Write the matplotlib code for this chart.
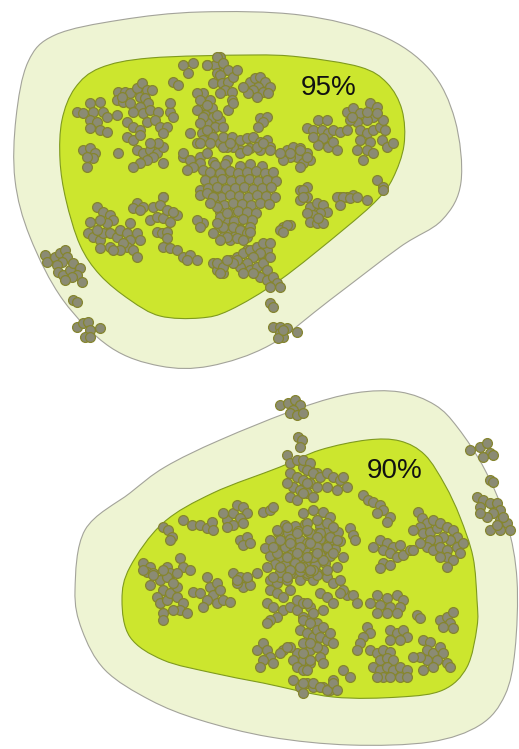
import numpy as np
import matplotlib
matplotlib.use("Agg")
import matplotlib.pyplot as plt
from matplotlib.path import Path
from matplotlib.patches import PathPatch

W, H = 519, 749

# ---- region outlines (control points, pixel space) ----
top_outer = [(28, 62), (55, 35), (120, 20), (200, 12), (300, 15), (380, 35), (430, 70),
             (455, 120), (461, 182), (442, 220), (400, 247), (330, 300), (270, 345),
             (210, 366), (160, 366), (110, 347), (63, 300), (30, 237), (15, 180), (16, 118)]
top_inner = [(62, 120), (75, 88), (100, 68), (150, 58), (250, 55), (300, 57), (360, 67),
             (387, 83), (402, 110), (404, 145), (393, 178), (377, 200), (343, 230),
             (280, 280), (230, 310), (200, 318), (160, 316), (130, 300), (100, 275),
             (80, 245), (66, 200), (60, 160)]
bot_outer = [(75, 590), (85, 530), (130, 493), (165, 467), (220, 440), (300, 408),
             (355, 393), (400, 392), (435, 405), (458, 428), (485, 470), (507, 523),
             (517, 580), (515, 650), (505, 695), (480, 725), (430, 742), (350, 745),
             (270, 737), (200, 720), (150, 700), (105, 670), (82, 630)]
bot_inner = [(122, 600), (130, 567), (163, 523), (213, 493), (280, 467), (320, 450),
             (367, 440), (400, 441), (425, 455), (445, 485), (460, 517), (473, 557),
             (477, 600), (477, 627), (467, 667), (443, 690), (400, 697), (333, 697),
             (263, 683), (213, 673), (163, 660), (130, 637)]

# ---- sample points, 95% panel ----
top_points = [
    (183, 65), (193, 63), (188, 73), (207, 65), (215, 65), (220, 57), (217, 73), (225, 70),
    (173, 82), (178, 85),
    (118, 92), (125, 92), (130, 93), (137, 88), (142, 83), (147, 90), (152, 90), (117, 100),
    (123, 102), (130, 103), (140, 97), (145, 98), (148, 103), (140, 107), (133, 112),
    (143, 113), (150, 110), (158, 112), (122, 97),
    (77, 112), (83, 113), (90, 103), (100, 102), (93, 112), (103, 112), (107, 117), (90, 120),
    (97, 122), (100, 130), (107, 132), (90, 128), (117, 115),
    (127, 122), (133, 127), (140, 130), (147, 122), (155, 120), (160, 127), (167, 127),
    (163, 133), (170, 112), (173, 117), (170, 103),
    (127, 137), (133, 140), (140, 135),
    (83, 150), (90, 148), (95, 153), (93, 158), (87, 157), (87, 167), (118, 153),
    (137, 150), (143, 153), (150, 150), (157, 153), (163, 147), (153, 157), (147, 160),
    (140, 163), (133, 167), (163, 163), (158, 143), (150, 143),
    (183, 157), (190, 160), (200, 157), (207, 153), (200, 163), (213, 162),
    (217, 57), (207, 65), (223, 63), (228, 70), (220, 75), (213, 83), (222, 83), (228, 82),
    (233, 77), (225, 90), (232, 92), (220, 93), (237, 70),
    (250, 82), (255, 78), (260, 77), (265, 82), (270, 87), (258, 87), (253, 90), (263, 92),
    (257, 97), (248, 93), (268, 93), (243, 87),
    (203, 93), (210, 100), (203, 105), (212, 108), (205, 115), (213, 117), (220, 120),
    (207, 123), (215, 127), (223, 127), (202, 133), (210, 133),
    (197, 93), (200, 100), (207, 105), (197, 110), (203, 117), (217, 115), (200, 123),
    (207, 130), (213, 137), (220, 143), (203, 140), (197, 143), (190, 133),
    (232, 100), (228, 110), (233, 103),
    (260, 118), (267, 117), (263, 122), (258, 127),
    (223, 137), (232, 137), (240, 140), (247, 138), (253, 137), (260, 142), (267, 140),
    (270, 147), (260, 150), (250, 148), (240, 150), (233, 147), (227, 147),
    (287, 150), (293, 147), (300, 148), (307, 153), (310, 160), (297, 157), (290, 157),
    (303, 163), (283, 160),
    (307, 128), (313, 130), (318, 120), (327, 120), (322, 130), (328, 133), (333, 130),
    (340, 132), (323, 138), (318, 145), (328, 147), (333, 142), (337, 150), (313, 137),
    (347, 112), (353, 108), (360, 113), (370, 103), (377, 107), (373, 117), (367, 120),
    (357, 122), (350, 120), (347, 130), (360, 130), (367, 133), (373, 130), (380, 127),
    (360, 140), (370, 142), (357, 150), (367, 150), (373, 153), (363, 160), (385, 130),
    (382, 140), (387, 147), (393, 143), (383, 120), (367, 112), (352, 117), (377, 113),
    (377, 180), (383, 187),
    (300, 190), (307, 187), (340, 197), (347, 197), (353, 195),
    (200, 143), (210, 143), (223, 147), (230, 143), (240, 153), (247, 150), (257, 147),
    (263, 143), (270, 150), (280, 153), (290, 153), (300, 150), (307, 157), (300, 167),
    (183, 153), (190, 160), (193, 167), (203, 170), (187, 170),
    (213, 173), (220, 170), (227, 177), (207, 183), (200, 190), (210, 193), (220, 190),
    (163, 197), (227, 160),
    (303, 190), (307, 197), (300, 200), (283, 227), (290, 225), (280, 230), (313, 217),
    (317, 210), (247, 250), (257, 247), (267, 250), (260, 255),
    (215, 165), (225, 164), (240, 166), (250, 164), (262, 166),
    (210, 172), (220, 173), (230, 171), (238, 173), (247, 172), (256, 171), (265, 173), (273, 172),
    (205, 180), (214, 181), (222, 179), (231, 181), (240, 180), (249, 179), (258, 181),
    (267, 180), (276, 181),
    (208, 188), (217, 187), (226, 189), (235, 188), (244, 187), (253, 189), (262, 188), (271, 187),
    (212, 196), (221, 197), (230, 195), (239, 196), (248, 197), (257, 195), (266, 196), (275, 197),
    (215, 204), (224, 205), (233, 203), (242, 204), (251, 205), (260, 203), (269, 204),
    (220, 212), (229, 213), (238, 211), (247, 212), (256, 213),
    (225, 220), (234, 221), (243, 219), (252, 220),
    (230, 228), (240, 229), (250, 227), (235, 236), (247, 237),
    (203, 223), (220, 227), (227, 230), (233, 227), (240, 230), (247, 233), (223, 237),
    (230, 240), (237, 238), (243, 240), (250, 232),
    (287, 225), (283, 232),
    (310, 207), (317, 203), (323, 205), (327, 212), (320, 213), (313, 215), (307, 213),
    (310, 222), (317, 223), (323, 223), (318, 218),
    (303, 197), (337, 197), (343, 197), (350, 198), (357, 197), (367, 200), (340, 205),
    (383, 190),
    (213, 263), (220, 267), (223, 273), (217, 270), (230, 260), (237, 257), (243, 253),
    (250, 250), (257, 247), (263, 243), (270, 243), (260, 253), (253, 257), (247, 263),
    (240, 267), (237, 260), (250, 270), (257, 267), (263, 263), (267, 270), (270, 257),
    (260, 277), (267, 280), (273, 277), (277, 283), (280, 287), (270, 287), (253, 273),
    (243, 273), (233, 263),
    (270, 303), (273, 307),
    (273, 327), (280, 327), (287, 328), (280, 333), (283, 337), (278, 338), (297, 332), (283, 330),
    (137, 203), (143, 207), (133, 208), (140, 210),
    (97, 207), (103, 212), (110, 215), (113, 220), (107, 223), (100, 220), (90, 222), (88, 233),
    (93, 237), (100, 240), (103, 233), (97, 230), (110, 233), (117, 237), (110, 247),
    (100, 248), (120, 230), (127, 233), (130, 240), (127, 247), (133, 250), (137, 257),
    (123, 243), (130, 223), (137, 233), (140, 240), (120, 250), (113, 250),
    (150, 220), (157, 217), (163, 218), (170, 222), (177, 215), (157, 232), (162, 233), (167, 232),
    (163, 197), (153, 207), (160, 205), (167, 210), (173, 212),
    (167, 238), (163, 247), (170, 248), (177, 250), (183, 257), (190, 255), (197, 260), (187, 260),
    (197, 220), (200, 227),
    (200, 195), (207, 193), (213, 197), (217, 207), (220, 217), (223, 227), (227, 237),
    (220, 240), (213, 233), (217, 223), (227, 213), (210, 203),
    (217, 263), (223, 267), (220, 273), (227, 260),
    (45, 255), (47, 262), (55, 257), (60, 253), (65, 250), (67, 257), (62, 262), (57, 265),
    (58, 272), (63, 275), (70, 270), (73, 263), (80, 268), (77, 275), (82, 282), (72, 277),
    (65, 280),
    (73, 300), (77, 302),
    (77, 327), (83, 323), (88, 322), (90, 330), (85, 337), (90, 337), (100, 328),
]

# ---- sample points, 90% panel ----
bot_points = [
    (280, 405), (288, 403), (295, 400), (300, 405), (293, 410), (290, 413), (297, 415), (303, 413),
    (298, 437), (302, 440), (300, 447),
    (287, 455), (290, 463), (297, 460), (303, 467), (310, 470), (290, 473), (297, 477),
    (303, 480), (310, 483), (293, 487), (300, 490), (307, 493), (290, 497), (297, 500),
    (313, 497), (317, 473), (287, 483),
    (303, 460), (310, 463), (307, 470), (313, 473), (320, 477), (327, 473), (333, 477),
    (340, 480), (347, 487), (337, 490), (327, 487), (317, 487), (307, 483), (303, 493),
    (313, 497), (343, 477),
    (227, 520), (233, 513), (237, 505), (243, 507), (247, 513), (240, 518), (233, 525),
    (227, 527), (243, 523), (223, 513),
    (263, 512), (270, 510), (273, 507),
    (183, 520), (192, 525), (200, 525), (207, 528), (212, 522), (213, 530),
    (163, 527), (168, 530), (172, 537), (170, 540),
    (240, 540), (247, 537), (243, 545), (250, 543),
    (143, 563), (150, 567), (147, 572), (153, 573), (167, 567), (170, 573), (180, 558),
    (183, 567), (177, 573), (190, 570),
    (363, 495), (368, 500), (373, 502), (380, 505), (383, 510), (377, 513), (390, 517), (387, 522),
    (350, 528), (353, 535), (355, 540),
    (373, 547), (380, 540), (387, 543), (393, 547), (400, 545), (383, 550), (390, 553),
    (397, 557), (403, 555), (410, 550), (383, 563), (390, 565), (380, 568),
    (418, 512), (422, 518), (427, 523), (420, 527), (413, 530), (423, 533), (430, 532),
    (437, 528), (433, 520), (440, 523), (447, 527), (453, 530), (457, 537), (450, 540),
    (443, 537), (437, 540), (430, 540), (427, 547), (433, 550), (440, 547), (447, 550),
    (457, 547), (463, 543), (460, 553), (447, 557), (440, 557), (420, 543), (413, 550),
    (453, 560), (447, 567),
    (470, 450), (480, 447), (487, 443), (490, 453), (483, 457), (493, 455), (490, 480),
    (493, 482), (477, 497), (483, 500), (480, 507), (490, 503), (497, 503), (500, 510),
    (493, 513), (487, 517), (480, 513), (500, 520), (507, 523), (510, 530), (500, 530),
    (490, 530), (497, 525), (503, 517),
    (150, 585), (160, 580), (167, 577), (163, 590), (157, 597), (160, 603), (167, 600),
    (170, 593), (177, 597), (183, 603), (180, 610), (173, 610), (163, 613), (163, 620),
    (187, 613), (177, 587), (173, 583),
    (143, 570), (153, 575), (163, 570),
    (193, 592), (200, 593), (207, 577), (210, 587), (217, 583), (213, 595), (207, 600),
    (203, 607), (217, 603), (223, 600), (230, 602), (220, 590),
    (233, 573), (240, 577), (247, 580), (243, 587), (250, 585), (237, 583),
    (270, 580), (277, 583), (280, 577), (287, 580), (293, 573), (300, 580), (307, 575),
    (313, 580), (317, 573), (270, 590), (277, 593), (283, 597), (290, 590), (267, 603),
    (273, 607), (283, 610), (290, 607), (297, 610), (277, 617), (270, 620), (267, 623),
    (297, 600), (303, 603), (310, 607), (303, 617), (310, 620), (317, 623), (300, 630),
    (307, 633), (313, 637), (303, 643), (310, 650), (317, 647), (297, 653), (290, 647),
    (283, 650), (293, 660), (303, 660), (310, 663), (297, 667), (303, 670), (293, 680),
    (300, 687), (307, 683), (313, 687),
    (257, 650), (263, 643), (267, 650), (270, 657), (263, 660), (260, 667), (273, 663),
    (280, 653), (287, 647), (303, 693),
    (307, 573), (317, 575), (327, 577), (333, 583), (340, 580), (320, 593), (327, 597),
    (333, 603), (323, 610), (313, 613), (307, 603), (303, 620), (310, 623), (317, 630),
    (323, 627), (320, 637), (327, 640), (330, 633), (333, 643), (323, 650), (317, 647),
    (310, 643), (303, 653), (310, 660), (307, 670), (313, 683), (303, 683), (323, 687),
    (333, 680), (330, 690), (320, 657), (323, 663),
    (347, 595), (353, 595), (357, 603), (343, 590), (340, 593),
    (377, 595), (387, 598), (397, 595), (403, 600), (380, 605), (390, 607), (377, 613),
    (387, 613), (400, 607), (397, 613), (370, 603),
    (417, 615), (420, 618),
    (440, 620), (447, 617), (453, 612), (450, 623), (443, 627), (453, 628),
    (367, 627), (370, 633), (363, 637), (360, 643), (357, 650), (370, 650),
    (390, 630), (397, 633), (403, 630), (407, 637), (390, 640), (400, 640),
    (377, 653), (383, 650), (390, 652), (380, 660), (387, 658), (393, 660), (373, 667),
    (380, 670), (387, 667), (393, 670), (400, 667), (407, 670), (400, 677), (407, 677),
    (383, 677), (377, 677), (390, 677),
    (423, 640), (430, 642), (427, 650), (433, 653), (440, 647), (443, 653), (437, 660),
    (447, 663), (450, 667), (427, 660), (420, 657), (433, 667), (423, 670), (413, 657),
    (343, 670), (350, 677),
    (320, 687), (327, 690), (333, 683), (337, 690),
    (285, 525), (295, 526), (305, 524), (320, 526), (330, 525),
    (278, 532), (288, 533), (298, 531), (308, 532), (318, 533), (328, 531), (338, 532),
    (270, 540), (280, 541), (290, 539), (300, 540), (310, 541), (320, 539), (330, 540), (340, 541),
    (265, 548), (275, 549), (285, 547), (295, 548), (305, 549), (315, 547), (325, 548), (335, 549),
    (270, 556), (280, 557), (290, 555), (300, 556), (310, 557), (320, 555), (330, 556),
    (275, 564), (285, 565), (295, 563), (305, 564), (315, 565), (325, 563),
    (280, 572), (290, 573), (300, 571), (310, 572),
    (303, 513), (313, 510), (323, 512), (330, 517), (307, 523), (317, 520), (327, 523),
    (333, 527), (310, 533), (320, 533), (330, 537), (337, 540), (307, 543), (317, 547),
    (327, 547), (333, 553), (343, 557), (313, 557), (323, 560), (303, 567), (313, 570),
    (327, 570), (337, 567),
    (277, 530), (287, 527), (297, 533), (307, 530), (317, 537), (280, 540), (290, 543),
    (300, 547), (310, 543), (277, 553), (287, 557), (297, 553), (307, 557), (317, 553),
    (280, 567), (290, 570), (300, 567), (310, 570), (273, 577), (287, 577),
    (273, 547), (267, 567), (257, 573), (247, 577), (237, 580),
]

labels = [("95%", 329, 88), ("90%", 395, 471)]

PALE = "#eef4d3"
LIME = "#cce62e"
DOT_FACE = "#8b8b74"
DOT_EDGE = "#85852e"


def smooth_closed_path(pts, tension=1.0):
    """Closed Catmull-Rom outline expressed as cubic Bezier segments."""
    p = np.asarray(pts, dtype=float)
    n = len(p)
    verts = [p[0]]
    codes = [Path.MOVETO]
    for i in range(n):
        p0, p1, p2, p3 = p[i - 1], p[i], p[(i + 1) % n], p[(i + 2) % n]
        c1 = p1 + (p2 - p0) * tension / 6.0
        c2 = p2 - (p3 - p1) * tension / 6.0
        verts += [c1, c2, p2]
        codes += [Path.CURVE4] * 3
    verts.append(p[0])
    codes.append(Path.CLOSEPOLY)
    return Path(verts, codes)


fig = plt.figure(figsize=(W / 100, H / 100), dpi=100)
ax = fig.add_axes([0, 0, 1, 1])
ax.set_xlim(0, W)
ax.set_ylim(H, 0)
ax.axis("off")

for outer, inner in [(top_outer, top_inner), (bot_outer, bot_inner)]:
    ax.add_patch(PathPatch(smooth_closed_path(outer), facecolor=PALE,
                           edgecolor="#a3a39a", linewidth=0.8, zorder=1))
    ax.add_patch(PathPatch(smooth_closed_path(inner), facecolor=LIME,
                           edgecolor="#7f9a1e", linewidth=0.8, zorder=2))

for pts in (top_points, bot_points):
    xs = [p[0] for p in pts]
    ys = [p[1] for p in pts]
    ax.scatter(xs, ys, s=50, facecolor=DOT_FACE, edgecolor=DOT_EDGE,
               linewidth=0.9, zorder=3)

for text, x, y in labels:
    ax.text(x, y, text, fontsize=20, family="Liberation Sans", color="#111111",
            ha="center", va="center", zorder=4)

fig.savefig("out.png", dpi=100)
